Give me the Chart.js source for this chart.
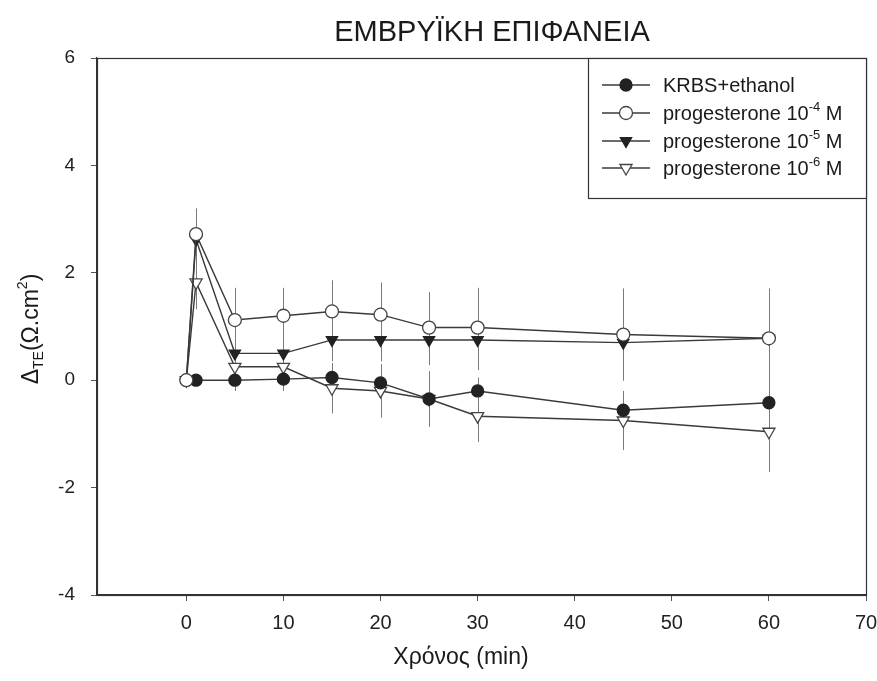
<!DOCTYPE html>
<html>
<head>
<meta charset="utf-8">
<script src="https://cdn.jsdelivr.net/npm/chart.js@4.4.1/dist/chart.umd.min.js"></script>
<style>
html,body{margin:0;padding:0;background:#fff;}
#wrap{width:877px;height:681px;position:relative;}
</style>
</head>
<body>
<div id="wrap"><canvas id="c" width="877" height="681"></canvas></div>
<script>
// ---- data ----
const times = [0, 1, 5, 10, 15, 20, 25, 30, 45, 60];
const krbs     = [0, 0, 0, 0.02, 0.05, -0.05, -0.35, -0.2, -0.56, -0.42];
const krbsErr  = [0, 0.1, 0.2, 0.2, 0.2, 0.2, 0.25, 0.25, 0.25, 0.3];
const prog4    = [0, 2.72, 1.12, 1.2, 1.28, 1.22, 0.98, 0.98, 0.85, 0.78];
const prog4Err = [0, 0.48, 0.6, 0.52, 0.58, 0.6, 0.66, 0.74, 0.86, 0.93];
const prog5    = [0, 2.62, 0.5, 0.5, 0.75, 0.75, 0.75, 0.75, 0.7, 0.78];
const prog5Err = [0, 0.3, 0.3, 0.3, 0.4, 0.4, 0.47, 0.56, 0.7, 0.7];
const prog6    = [0, 1.82, 0.25, 0.25, -0.15, -0.2, -0.35, -0.67, -0.75, -0.96];
const prog6Err = [0, 0.5, 0.45, 0.45, 0.47, 0.5, 0.52, 0.48, 0.55, 0.75];
const xTicks = [0, 10, 20, 30, 40, 50, 60, 70];
const yTicks = [-4, -2, 0, 2, 4, 6];
const titleText = "ΕΜΒΡΥΪΚΗ ΕΠΙΦΑΝΕΙΑ";
const xTitle = "Χρόνος (min)";
const legendLabels = [
  ["KRBS+ethanol"],
  ["progesterone 10", "-4", " M"],
  ["progesterone 10", "-5", " M"],
  ["progesterone 10", "-6", " M"]
];

const FONT = "'Liberation Sans', Arial, sans-serif";
const LINE = '#3a3a3a';

function pts(vals){ return times.map((t,i)=>({x:t, y:vals[i]})); }

const datasets = [
  {label:'KRBS+ethanol', data:pts(krbs), err:krbsErr, pointStyle:'circle', pointRadius:6, order:1,
   backgroundColor:'#222', borderColor:LINE, pointBorderColor:'#222', pointBackgroundColor:'#222', rot:0},
  {label:'p4', data:pts(prog4), err:prog4Err, pointStyle:'circle', pointRadius:6.5, order:0,
   backgroundColor:'#fff', borderColor:LINE, pointBorderColor:'#444', pointBackgroundColor:'#fff', rot:0},
  {label:'p5', data:pts(prog5), err:prog5Err, pointStyle:'triangle', pointRadius:6.5, order:2,
   backgroundColor:'#222', borderColor:LINE, pointBorderColor:'#222', pointBackgroundColor:'#222', rot:180},
  {label:'p6', data:pts(prog6), err:prog6Err, pointStyle:'triangle', pointRadius:7, order:3,
   backgroundColor:'#fff', borderColor:LINE, pointBorderColor:'#444', pointBackgroundColor:'#fff', rot:180}
].map(d=>Object.assign(d,{borderWidth:1.4, pointBorderWidth:1.3, pointRotation:d.rot, tension:0, fill:false}));

// error bars, frame, legend and titles
const extras = {
  id:'extras',
  beforeDatasetsDraw(chart){
    const ctx = chart.ctx, xs = chart.scales.x, ys = chart.scales.y;
    ctx.save();
    ctx.strokeStyle = '#7a7a7a';
    ctx.lineWidth = 1;
    chart.data.datasets.forEach(ds=>{
      ds.data.forEach((p,i)=>{
        const e = ds.err[i];
        if(!e) return;
        const px = Math.round(xs.getPixelForValue(p.x))+0.5;
        ctx.beginPath();
        ctx.moveTo(px, ys.getPixelForValue(p.y+e));
        ctx.lineTo(px, ys.getPixelForValue(p.y-e));
        ctx.stroke();
      });
    });
    ctx.restore();
  },
  afterDraw(chart){
    const ctx = chart.ctx, a = chart.chartArea;
    ctx.save();
    // frame
    ctx.strokeStyle = '#333'; ctx.lineWidth = 1.2;
    ctx.strokeRect(a.left+0.5, a.top+0.5, a.right-a.left, a.bottom-a.top);
    // title
    ctx.fillStyle = '#1a1a1a';
    ctx.font = '29px ' + FONT;
    ctx.textAlign = 'center'; ctx.textBaseline = 'alphabetic';
    ctx.fillText(titleText, 492, 41);
    // x title
    ctx.font = '23px ' + FONT;
    ctx.fillText(xTitle, 461, 664);
    // y title rotated
    ctx.save();
    ctx.translate(38, 329);
    ctx.rotate(-Math.PI/2);
    const big = '23px ' + FONT, small = '14px ' + FONT;
    const parts = [["Δ",big,0],["TE",small,5],["(Ω.cm",big,0],["2",small,-11],[")",big,0]];
    let w = 0;
    parts.forEach(p=>{ctx.font=p[1]; w+=ctx.measureText(p[0]).width;});
    let x = -w/2;
    ctx.textAlign='left';
    parts.forEach(p=>{ctx.font=p[1]; ctx.fillText(p[0], x, p[2]); x+=ctx.measureText(p[0]).width;});
    ctx.restore();
    // legend box
    const bx = 588, by = a.top, bw = a.right - 588, bh = 140;
    ctx.fillStyle = '#fff';
    ctx.fillRect(bx, by, bw, bh);
    ctx.strokeStyle = '#333'; ctx.lineWidth = 1.2;
    ctx.strokeRect(bx+0.5, by+0.5, bw, bh);
    const rowY = [85, 113, 141, 168];
    chart.data.datasets.forEach((ds,i)=>{
      const y = rowY[i];
      ctx.strokeStyle = LINE; ctx.lineWidth = 1.4;
      ctx.beginPath(); ctx.moveTo(602, y); ctx.lineTo(650, y); ctx.stroke();
      ctx.fillStyle = ds.pointBackgroundColor; ctx.strokeStyle = ds.pointBorderColor;
      ctx.lineWidth = 1.3;
      Chart.helpers.drawPoint(ctx, {pointStyle: ds.pointStyle, rotation: ds.rot, radius: ds.pointRadius, borderWidth:1.3}, 626, y);
      const lab = legendLabels[i];
      ctx.fillStyle = '#1a1a1a';
      ctx.textAlign = 'left'; ctx.textBaseline = 'middle';
      ctx.font = '20px ' + FONT;
      let tx = 663;
      ctx.fillText(lab[0], tx, y+1);
      tx += ctx.measureText(lab[0]).width;
      if(lab.length > 2){
        ctx.font = '13px ' + FONT;
        ctx.fillText(lab[1], tx, y-6);
        tx += ctx.measureText(lab[1]).width;
        ctx.font = '20px ' + FONT;
        ctx.fillText(lab[2], tx, y+1);
      }
    });
    ctx.restore();
  }
};

new Chart(document.getElementById('c'), {
  type:'line',
  data:{datasets},
  options:{
    responsive:false,
    animation:false,
    layout:{padding:{left:0, right:11, top:58, bottom:0}},
    plugins:{legend:{display:false}, title:{display:false}, tooltip:{enabled:false}},
    scales:{
      x:{type:'linear', min:-9.2, max:70,
         afterBuildTicks(s){ s.ticks = xTicks.map(v=>({value:v})); },
         afterFit(s){ s.height = 86; s.paddingRight = 0; s.paddingLeft = 0; },
         grid:{drawOnChartArea:false, drawTicks:true, tickLength:6, color:'#555'},
         border:{display:true, color:'#333', width:1.2},
         ticks:{font:{family:FONT, size:20}, color:'#222', padding:10, maxRotation:0}},
      y:{type:'linear', min:-4, max:6,
         afterBuildTicks(s){ s.ticks = yTicks.map(v=>({value:v})); },
         afterFit(s){ s.width = 97; s.paddingTop = 0; s.paddingBottom = 0; },
         grid:{drawOnChartArea:false, drawTicks:true, tickLength:6, color:'#555'},
         border:{display:true, color:'#333', width:1.2},
         ticks:{font:{family:FONT, size:19}, color:'#222', padding:16}}
    }
  },
  plugins:[extras]
});
</script>
</body>
</html>
